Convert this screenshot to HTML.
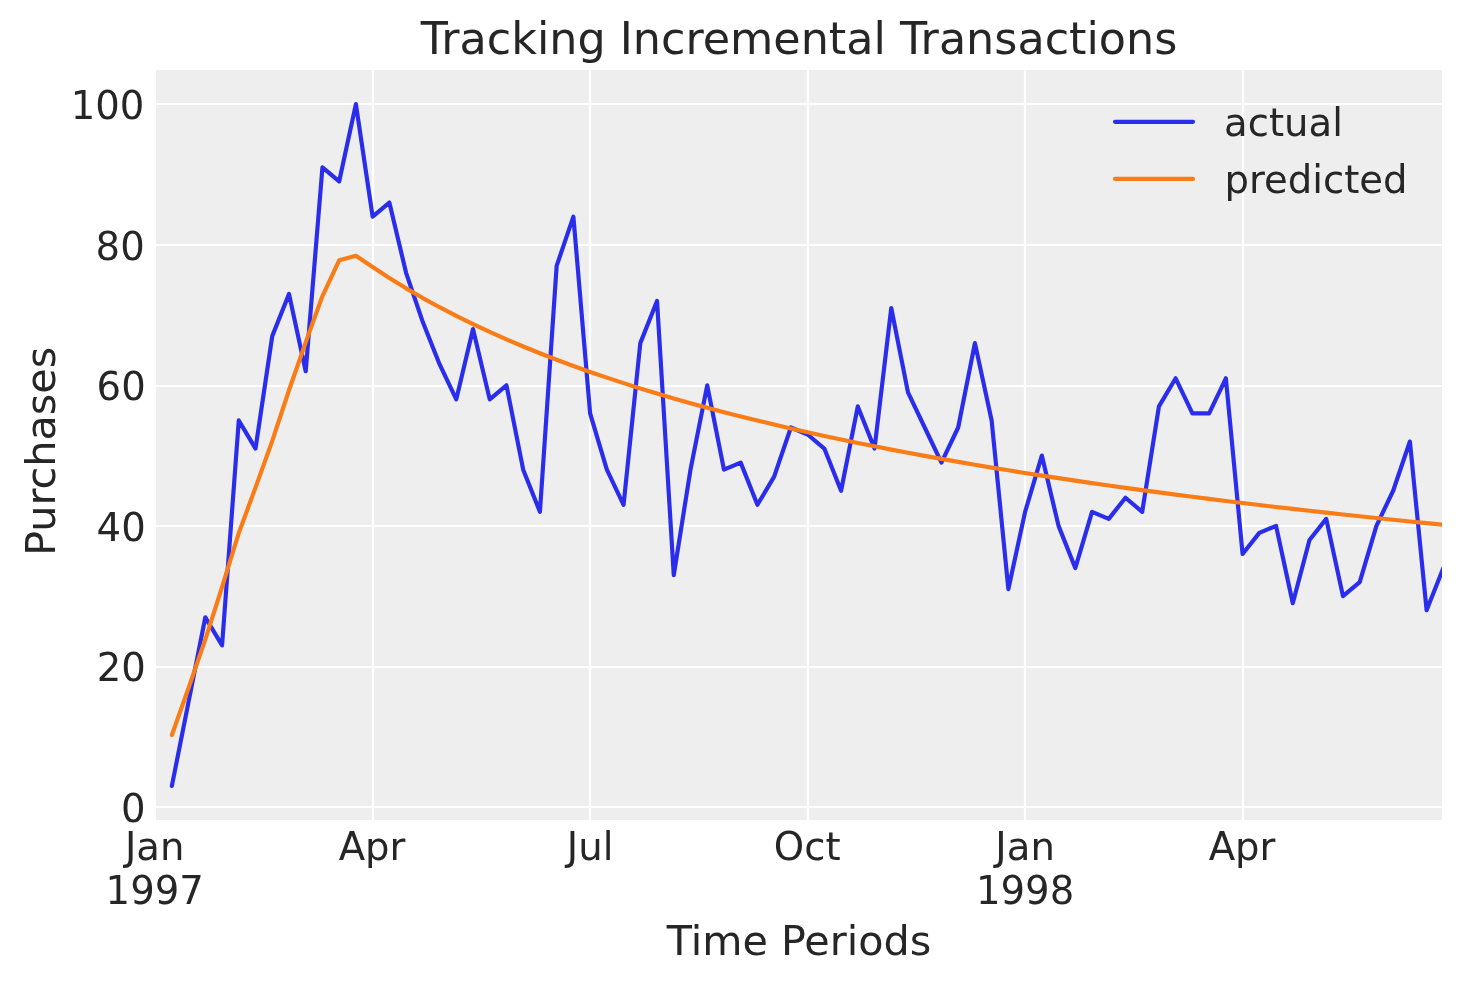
<!DOCTYPE html>
<html lang="en"><head><meta charset="utf-8"><title>Tracking Incremental Transactions</title>
<style>html,body{margin:0;padding:0;background:#fff;}svg{display:block;}</style></head>
<body>
<svg width="1463" height="983" viewBox="0 0 1463 983" font-family="'DejaVu Sans', 'Liberation Sans', sans-serif" fill="#262626">
<rect x="0" y="0" width="1463" height="983" fill="#ffffff"/>
<defs><clipPath id="ax"><rect x="156" y="70" width="1286" height="750"/></clipPath></defs>
<rect x="156" y="70" width="1286" height="750" fill="#eeeeee"/>
<g clip-path="url(#ax)" stroke="#ffffff" stroke-width="2.22" fill="none"><line x1="373" y1="70" x2="373" y2="820"/><line x1="590" y1="70" x2="590" y2="820"/><line x1="808" y1="70" x2="808" y2="820"/><line x1="1025" y1="70" x2="1025" y2="820"/><line x1="1243" y1="70" x2="1243" y2="820"/><line x1="156" y1="807" x2="1442" y2="807"/><line x1="156" y1="667" x2="1442" y2="667"/><line x1="156" y1="526" x2="1442" y2="526"/><line x1="156" y1="386" x2="1442" y2="386"/><line x1="156" y1="245" x2="1442" y2="245"/><line x1="156" y1="104" x2="1442" y2="104"/></g>
<g clip-path="url(#ax)" fill="none" stroke-width="4.17" stroke-linejoin="round" stroke-linecap="round">
<path d="M171.87,785.96 L188.60,701.62 L205.33,617.27 L222.06,645.38 L238.79,420.45 L255.52,448.57 L272.25,336.11 L288.98,293.93 L305.71,371.25 L322.44,167.41 L339.17,181.47 L355.90,104.15 L372.63,216.61 L389.36,202.56 L406.09,272.85 L422.82,322.05 L439.55,364.22 L456.28,399.37 L473.01,329.08 L489.74,399.37 L506.47,385.31 L523.20,469.66 L539.93,511.83 L556.66,265.82 L573.39,216.61 L590.12,413.43 L606.85,469.66 L623.58,504.80 L640.31,343.14 L657.04,300.96 L673.77,575.09 L690.50,469.66 L707.23,385.31 L723.96,469.66 L740.69,462.63 L757.42,504.80 L774.15,476.69 L790.88,427.48 L807.61,434.51 L824.34,448.57 L841.07,490.74 L857.80,406.40 L874.53,448.57 L891.26,307.99 L907.99,392.34 L924.72,427.48 L941.45,462.63 L958.18,427.48 L974.91,343.14 L991.64,420.45 L1008.37,589.15 L1025.10,511.83 L1041.83,455.60 L1058.56,525.89 L1075.29,568.06 L1092.02,511.83 L1108.75,518.86 L1125.48,497.77 L1142.21,511.83 L1158.94,406.40 L1175.67,378.28 L1192.40,413.43 L1209.13,413.43 L1225.86,378.28 L1242.59,554.01 L1259.32,532.92 L1276.05,525.89 L1292.78,603.21 L1309.51,539.95 L1326.24,518.86 L1342.97,596.18 L1359.70,582.12 L1376.43,525.89 L1393.16,490.74 L1409.89,441.54 L1426.62,610.24 L1443.35,568.06" stroke="#2a2eec"/>
<path d="M171.87,735.07 L188.60,687.84 L205.33,639.41 L222.06,587.04 L238.79,532.92 L255.52,487.58 L272.25,440.84 L288.98,390.23 L305.71,342.43 L322.44,296.04 L339.17,260.33 L355.90,255.77 L372.63,267.02 L389.36,278.01 L406.09,288.33 L422.82,298.05 L439.55,307.22 L456.28,315.90 L473.01,324.14 L489.74,331.96 L506.47,339.40 L523.20,346.50 L539.93,353.28 L556.66,359.76 L573.39,365.97 L590.12,371.92 L606.85,377.63 L623.58,383.13 L640.31,388.41 L657.04,393.50 L673.77,398.41 L690.50,403.15 L707.23,407.72 L723.96,412.15 L740.69,416.43 L757.42,420.57 L774.15,424.58 L790.88,428.48 L807.61,432.25 L824.34,435.92 L841.07,439.48 L857.80,442.95 L874.53,446.31 L891.26,449.59 L907.99,452.78 L924.72,455.89 L941.45,458.92 L958.18,461.87 L974.91,464.76 L991.64,467.57 L1008.37,470.31 L1025.10,472.99 L1041.83,475.61 L1058.56,478.17 L1075.29,480.68 L1092.02,483.13 L1108.75,485.52 L1125.48,487.87 L1142.21,490.17 L1158.94,492.42 L1175.67,494.62 L1192.40,496.78 L1209.13,498.90 L1225.86,500.98 L1242.59,503.01 L1259.32,505.01 L1276.05,506.97 L1292.78,508.90 L1309.51,510.79 L1326.24,512.64 L1342.97,514.47 L1359.70,516.26 L1376.43,518.02 L1393.16,519.75 L1409.89,521.45 L1426.62,523.12 L1443.35,524.77" stroke="#fa7c17"/>
</g>
<text x="799" y="54" font-size="44.44" text-anchor="middle">Tracking Incremental Transactions</text>
<text x="144.4" y="118.7" font-size="38.6" text-anchor="end">100</text>
<text x="144.7" y="259.7" font-size="38.6" text-anchor="end">80</text>
<text x="145.7" y="399.6" font-size="38.6" text-anchor="end">60</text>
<text x="145.7" y="540.7" font-size="38.6" text-anchor="end">40</text>
<text x="145.8" y="680.7" font-size="38.6" text-anchor="end">20</text>
<text x="145.6" y="821.7" font-size="38.6" text-anchor="end">0</text>
<text x="154.70" y="860" font-size="38.6" text-anchor="middle">Jan</text>
<text x="154.70" y="904" font-size="38.6" text-anchor="middle">1997</text>
<text x="372.00" y="860" font-size="38.6" text-anchor="middle">Apr</text>
<text x="590.10" y="860" font-size="38.6" text-anchor="middle">Jul</text>
<text x="807.20" y="860" font-size="38.6" text-anchor="middle">Oct</text>
<text x="1025.10" y="860" font-size="38.6" text-anchor="middle">Jan</text>
<text x="1025.10" y="904" font-size="38.6" text-anchor="middle">1998</text>
<text x="1242.00" y="860" font-size="38.6" text-anchor="middle">Apr</text>
<text x="799" y="954.7" font-size="41.3" text-anchor="middle">Time Periods</text>
<text transform="translate(54.8,451.3) rotate(-90)" font-size="41.3" text-anchor="middle">Purchases</text>
<g fill="none" stroke-width="4.17" stroke-linecap="round"><line x1="1115" y1="121.8" x2="1193" y2="121.8" stroke="#2a2eec"/><line x1="1115" y1="178.9" x2="1193" y2="178.9" stroke="#fa7c17"/></g>
<text x="1224.1" y="136" font-size="38.6">actual</text>
<text x="1224.6" y="193" font-size="38.6">predicted</text>
</svg>
</body></html>
